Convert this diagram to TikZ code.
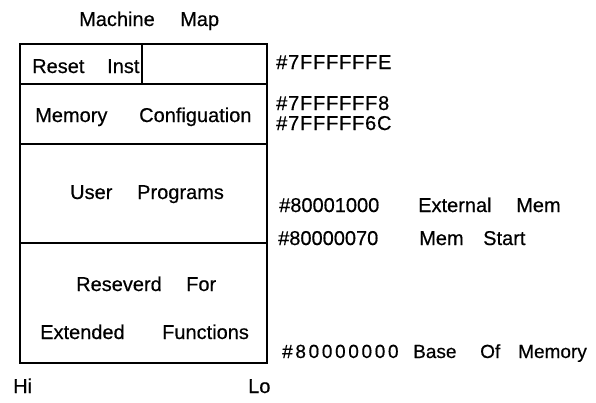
\documentclass[tikz,border=0pt]{standalone}
\usepackage{fontspec}
\setmainfont{Liberation Sans}
\newfontfamily\plainf[FakeBold=0.5]{Liberation Sans}
\newfontfamily\hexA[LetterSpace=4,FakeBold=0.5]{Liberation Sans}
\newfontfamily\hexB[LetterSpace=14,FakeBold=0.5]{Liberation Sans}
\begin{document}
\begin{tikzpicture}[x=1pt,y=-1pt,
  lbl/.style={anchor=base west, inner sep=0pt, font=\fontsize{20}{23}\plainf},
  small/.style={lbl, font=\fontsize{19}{22}\plainf},
  hexa/.style={lbl, font=\fontsize{20}{23}\hexA},
  hexb/.style={lbl, font=\fontsize{19}{22}\hexB},
  frame/.style={line width=1.8pt, line cap=rect}]
\useasboundingbox[fill=white] (0,0) rectangle (596,402);
% memory box
\draw[frame] (20,44) rectangle (267,363);
\draw[frame] (20,84) -- (267,84);
\draw[frame] (20,144) -- (267,144);
\draw[frame] (20,243) -- (267,243);
\draw[frame] (142,44) -- (142,84);
% title
\node[lbl] (t1) at (79,26) {Machine};
\node[lbl] (t2) at (180,26) {Map};
% inside box
\node[lbl] (r1) at (32,73) {Reset};
\node[lbl] (r2) at (107,73) {Inst};
\node[lbl] (m1) at (35,122) {Memory};
\node[lbl] (m2) at (139,122) {Configuation};
\node[lbl] (u1) at (70,199) {User};
\node[lbl] (u2) at (137,199) {Programs};
\node[lbl] (e1) at (76,291) {Reseverd};
\node[lbl] (e2) at (186,291) {For};
\node[lbl] (f1) at (40,339) {Extended};
\node[lbl] (f2) at (162,339) {Functions};
% bottom
\node[lbl] (hi) at (13,393) {Hi};
\node[lbl] (lo) at (248,393) {Lo};
% addresses
\node[hexa] (a1) at (276,69) {\#7FFFFFFE};
\node[hexa] (a2) at (276,110) {\#7FFFFFF8};
\node[hexa] (a3) at (276,130) {\#7FFFFF6C};
\node[lbl] (a4) at (279,212) {\#80001000};
\node[lbl] (x1) at (418,212) {External};
\node[lbl] (x2) at (516,212) {Mem};
\node[lbl] (a5) at (278,245) {\#80000070};
\node[lbl] (s1) at (419,245) {Mem};
\node[lbl] (s2) at (483,245) {Start};
\node[hexb] (a6) at (282,358) {\#80000000};
\node[small] (b1) at (413,358) {Base};
\node[small] (b2) at (480,358) {Of};
\node[small] (b3) at (518,358) {Memory};
\end{tikzpicture}
\end{document}
